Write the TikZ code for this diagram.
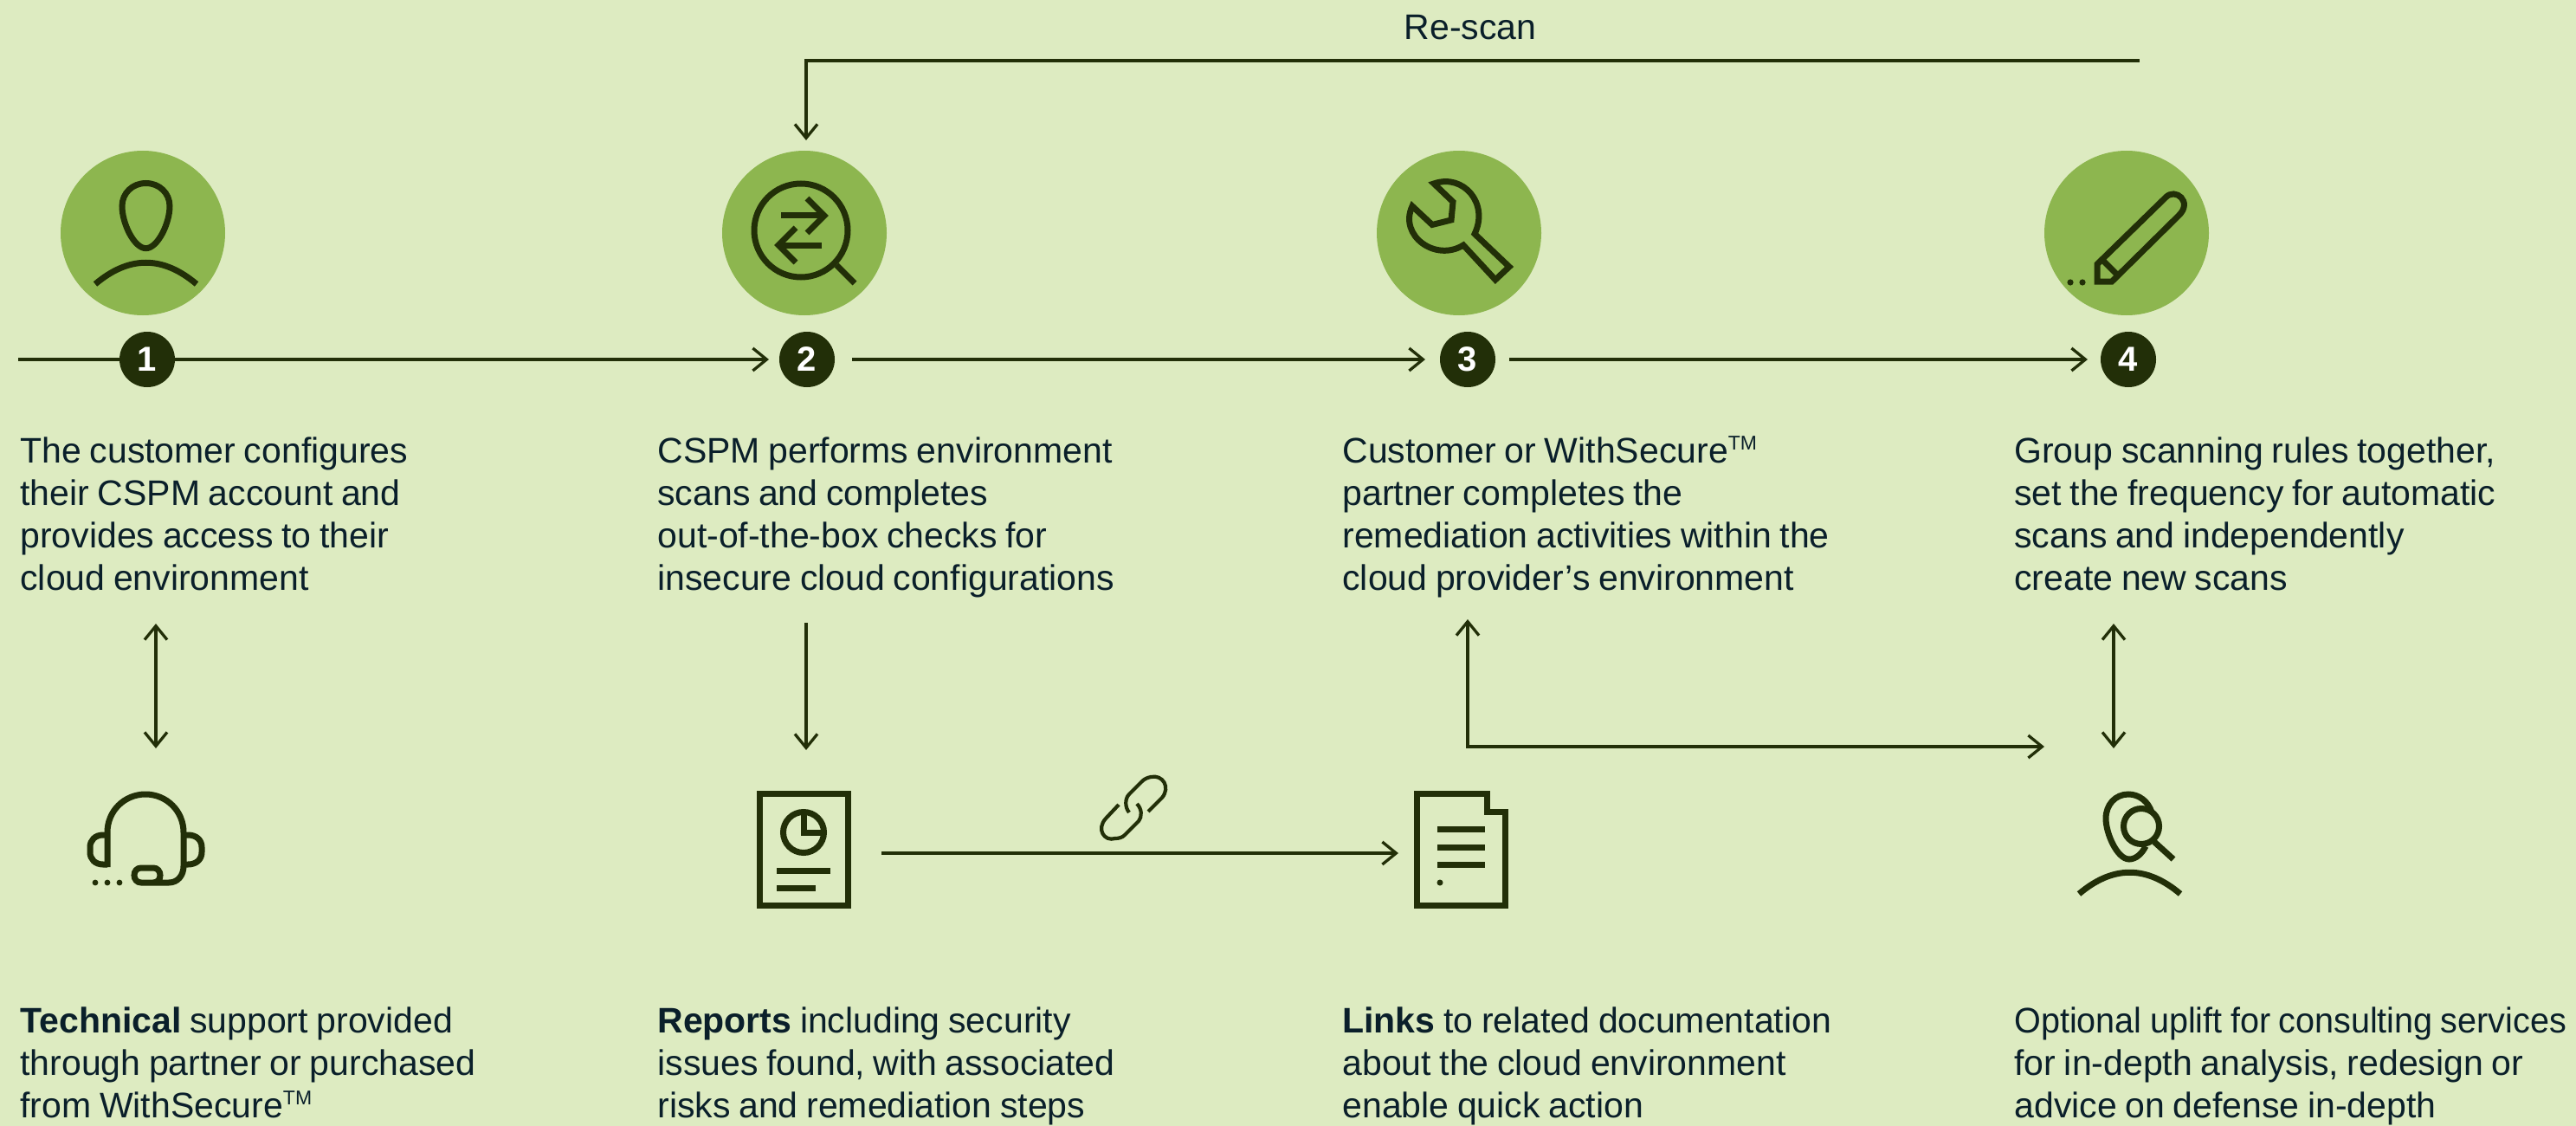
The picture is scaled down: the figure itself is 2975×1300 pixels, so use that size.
\documentclass[tikz,border=0pt]{standalone}
\usepackage{fontspec}
\setmainfont[WordSpace=0.85]{Liberation Sans}
\usetikzlibrary{arrows.meta}
\definecolor{bgc}{HTML}{DDEBC1}
\definecolor{disc}{HTML}{8DB64F}
\definecolor{ink}{HTML}{222F08}
\definecolor{txt}{HTML}{0A1F2A}
\newcommand{\tmk}{\smash{\textsuperscript{\fontsize{11.5}{12}\selectfont TM}}}
\tikzset{
  conn/.style={draw=ink,line width=1.65pt},
  tip/.style={conn,-{Straight Barb[length=8pt,width=13pt]}},
  tips/.style={conn,{Straight Barb[length=8pt,width=13pt]}-{Straight Barb[length=8pt,width=13pt]}},
  icon/.style={draw=ink,line width=3.5pt,miter limit=10},
  num/.style={circle,fill=ink,text=white,minimum size=32pt,inner sep=0pt,font=\fontsize{20}{20}\selectfont\bfseries},
  para/.style={anchor=north west,inner sep=0pt,align=left,text=txt,font=\fontsize{20.5}{24.5}\selectfont},
  lab/.style={inner sep=0pt,text=txt,font=\fontsize{20.5}{24.5}\selectfont}
}
\begin{document}
\begin{tikzpicture}[x=0.5pt,y=-0.5pt]
\useasboundingbox (0,0) rectangle (2975,1300);
\fill[bgc] (0,0) rectangle (2975,1300);
% discs
\foreach \cx in {165,929,1685,2456}{\fill[disc] (\cx,269) circle[radius=47.5pt];}
% numbers
\node[num] (n1) at (170,415) {1};
\node[num] (n2) at (932,415) {2};
\node[num] (n3) at (1695,415) {3};
\node[num] (n4) at (2458,415) {4};
% coordinates
\coordinate (s0) at (21,415);
\coordinate (h2) at (888,415);
\coordinate (s2) at (984,415);
\coordinate (h3) at (1646,415);
\coordinate (s3) at (1743,415);
\coordinate (h4) at (2411,415);
\coordinate (rsa) at (2471,70);
\coordinate (rsb) at (931,162);
\coordinate (a1t) at (180,720);
\coordinate (a1b) at (180,864);
\coordinate (a2t) at (931,719);
\coordinate (a2b) at (931,866);
\coordinate (a3t) at (1695,715);
\coordinate (a3c) at (1695,862);
\coordinate (a3r) at (2361,862);
\coordinate (a4t) at (2441,720);
\coordinate (a4b) at (2441,864);
\coordinate (la) at (1018,985);
\coordinate (lb) at (1615,985);
% connectors
\draw[conn] (s0) -- (n1);
\draw[tip] (n1) -- (h2);
\draw[tip] (s2) -- (h3);
\draw[tip] (s3) -- (h4);
\draw[tip] (rsa) -| (rsb);
\draw[tips] (a1t) -- (a1b);
\draw[tip] (a2t) -- (a2b);
\draw[tips] (a3t) |- (a3r);
\draw[tips] (a4t) -- (a4b);
\draw[tip] (la) -- (lb);
\node[lab] (rs) at (1698,32) {Re-scan};
% texts
\node[para] (t1) at (23,504) {The customer configures\\their CSPM account and\\provides access to their\\cloud environment};
\node[para] (t2) at (759,504) {CSPM performs environment\\scans and completes\\out-of-the-box checks for\\insecure cloud configurations};
\node[para] (t3) at (1550,504) {Customer or WithSecure\tmk\\partner completes the\\remediation activities within the\\cloud provider’s environment};
\node[para] (t4) at (2326,504) {Group scanning rules together,\\set the frequency for automatic\\scans and independently\\create new scans};
\node[para] (b1) at (23,1162) {\textbf{Technical} support provided\\through partner or purchased\\from WithSecure\tmk};
\node[para] (b2) at (759,1162) {\textbf{Reports} including security\\issues found, with associated\\risks and remediation steps};
\node[para] (b3) at (1550,1162) {\textbf{Links} to related documentation\\about the cloud environment\\enable quick action};
\node[para] (b4) at (2326,1162) {{\addfontfeature{FakeStretch=0.965}Optional uplift for consulting services}\\for in-depth analysis, redesign or\\advice on defense in-depth};
% person
\draw[icon] (168.5,211.5) .. controls (153,211.5) and (141,223) .. (141,238) .. controls (141,258) and (155,286.7) .. (168.5,286.7) .. controls (182,286.7) and (196,258) .. (196,238) .. controls (196,223) and (184,211.5) .. cycle;
\draw[icon] (110,328) .. controls (149,295) and (188,295) .. (227,328);
% magnifier with arrows
\draw[icon] (925,266) circle[radius=27pt];
\draw[icon] (966,306) -- (987,327);
\draw[icon] (902,249) -- (952,249);
\draw[icon] (932,229) -- (952,249) -- (932,269);
\draw[icon] (949,283) -- (899,283);
\draw[icon] (919,263) -- (899,283) -- (919,303);
% wrench
\draw[icon] (1656,212) .. controls (1690,200) and (1720,235) .. (1703,270) -- (1743,308) -- (1727,323) -- (1690,283) .. controls (1658,303) and (1615,272) .. (1631,238) -- (1654,259.5) -- (1676,254) -- (1678,233) -- cycle;
% pencil
\draw[icon] (2422,325) -- (2422,305) -- (2501,228) .. controls (2512,216) and (2533,233) .. (2516,249) -- (2439,325) -- cycle;
\draw[icon] (2428,300) -- (2446,318);
\fill[ink] (2391,326) circle[radius=1.8pt] (2405,326) circle[radius=1.8pt];
% headset
\draw[icon] (124,1001) -- (124,961) .. controls (124,936) and (144,917) .. (168,917) .. controls (192,917) and (212,936) .. (212,961) -- (212,1000) .. controls (212,1011) and (205,1019) .. (195,1019) -- (163,1019) .. controls (158,1019) and (155,1015) .. (155,1010.5) .. controls (155,1006) and (158,1002) .. (163,1002) -- (177,1002) .. controls (182,1002) and (185,1006) .. (185,1010.5) .. controls (185,1015) and (182,1019) .. (177,1019);
\draw[icon] (124,964) -- (119,964) .. controls (110,964) and (104,970) .. (104,978) -- (104,984) .. controls (104,992) and (110,998) .. (119,998) -- (124,998);
\draw[icon] (212,964) -- (217,964) .. controls (227,964) and (233,970) .. (233,978) -- (233,984) .. controls (233,992) and (227,998) .. (217,998) -- (212,998);
\fill[ink] (110,1019) circle[radius=1.7pt] (124,1019) circle[radius=1.7pt] (138,1019) circle[radius=1.7pt];
% report
\draw[icon] (877,916.5) rectangle (979.5,1045.5);
\draw[icon] (928,961) circle[radius=11.75pt];
\draw[icon] (928,937.5) -- (928,961) -- (951.5,961);
\draw[icon] (897,1005) -- (959,1005);
\draw[icon] (897,1025) -- (942,1025);
% chain
\draw[draw=ink,line width=2.1pt] (1326,937) -- (1342,921) .. controls (1352,909) and (1343,894) .. (1329,897) .. controls (1325,898) and (1322,899) .. (1319,902) -- (1304,917) .. controls (1299,922) and (1299,932) .. (1304,938);
\draw[draw=ink,line width=2.1pt] (1292,929) -- (1277,945) .. controls (1266,957) and (1275,972) .. (1288,968) .. controls (1292,968) and (1296,967) .. (1299,964) -- (1315,948) .. controls (1319,943) and (1319,934) .. (1313,928);
% document
\draw[icon] (1636.5,916.5) -- (1717.5,916.5) -- (1717.5,937.5) -- (1738.5,937.5) -- (1738.5,1045.5) -- (1636.5,1045.5) -- cycle;
\draw[icon] (1660,957) -- (1715,957);
\draw[icon] (1660,978) -- (1715,978);
\draw[icon] (1660,998) -- (1715,998);
\fill[ink] (1663,1019) circle[radius=1.75pt];
% person with lens
\draw[icon] (2485,938) .. controls (2481,925) and (2470,917) .. (2458,917) .. controls (2443,917) and (2432,929) .. (2432,945) .. controls (2432,962) and (2445,992) .. (2459,992) .. controls (2467,992) and (2474,985) .. (2478,977);
\draw[icon] (2473,954) circle[radius=10.25pt];
\draw[icon] (2488,972) -- (2510,992);
\draw[icon] (2401,1032) .. controls (2440,999) and (2479,999) .. (2518,1032);
\end{tikzpicture}
\end{document}
